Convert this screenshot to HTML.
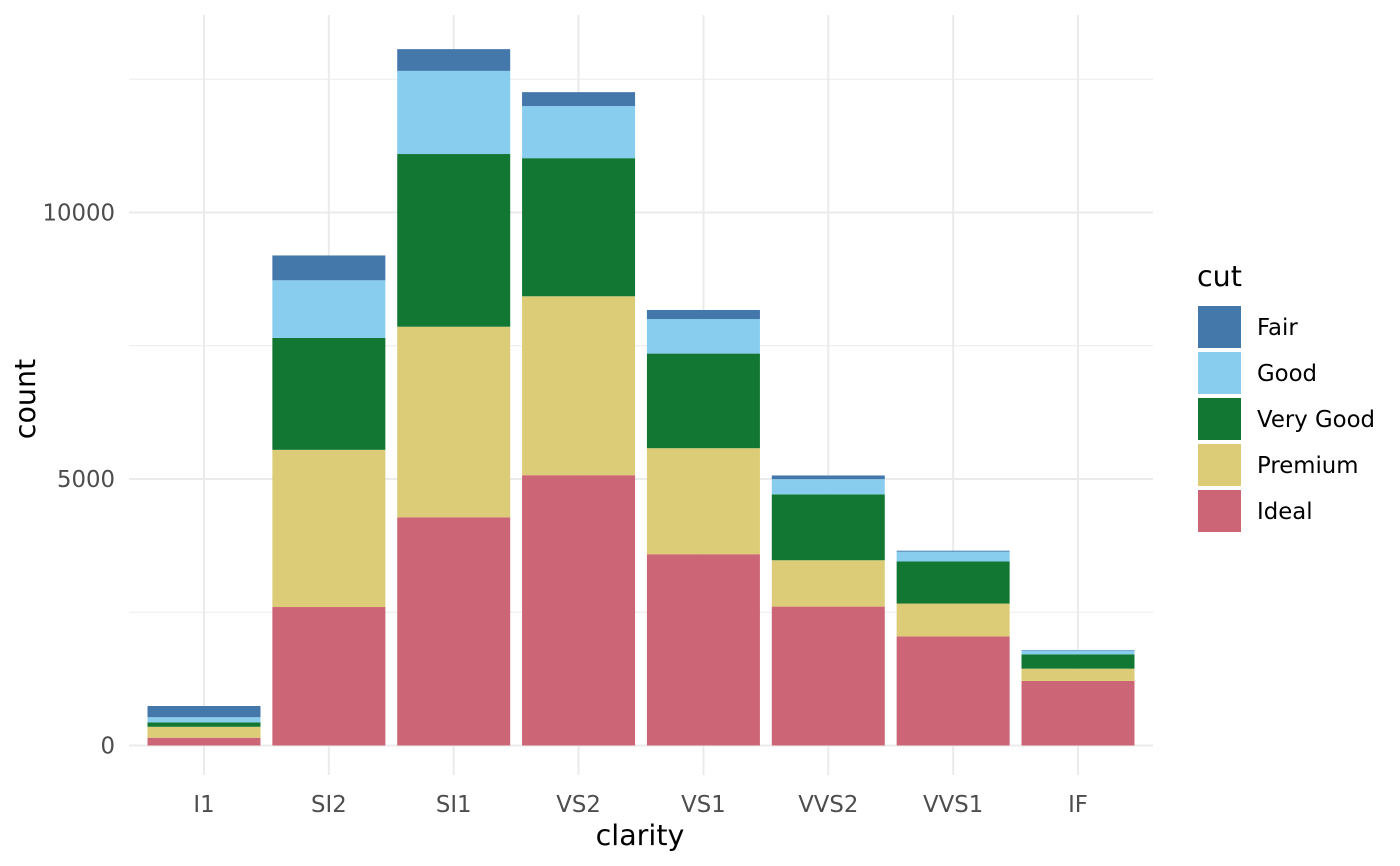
<!DOCTYPE html>
<html><head><meta charset="utf-8">
<style>
body{margin:0;background:#fff;}
svg{display:block;font-family:"DejaVu Sans","Liberation Sans",sans-serif;}
</style></head>
<body>
<svg id="chart" width="1400" height="866">
<g id="gGrid"></g>
<g id="gBars"></g>
<g id="gAxes"></g>
<g id="gLegend"></g>
</svg>
<script>
const categories = ["I1","SI2","SI1","VS2","VS1","VVS2","VVS1","IF"];
const cuts = ["Fair","Good","Very Good","Premium","Ideal"];
const fair     = [210,466,408,261,170,69,17,9];
const good     = [96,1081,1560,978,648,286,186,71];
const veryGood = [84,2100,3240,2591,1775,1235,789,268];
const premium  = [205,2949,3575,3357,1989,870,616,230];
const ideal    = [146,2598,4282,5071,3589,2606,2047,1212];
const yTicks = [0,5000,10000];
const yMinor = [2500,7500,12500];

const colors = {"Fair":"#4477AA","Good":"#88CCEE","Very Good":"#117733","Premium":"#DDCC77","Ideal":"#CC6677"};
const seriesByCut = {"Fair":fair,"Good":good,"Very Good":veryGood,"Premium":premium,"Ideal":ideal};
const NS="http://www.w3.org/2000/svg";
const plotL=129,plotR=1153,plotT=15,plotB=775;
const y0=745.5, pxPerUnit=(745.5-212.5)/10000;
function yScale(v){return y0 - v*pxPerUnit;}
const firstCenter=204, step=(1078-204)/7;
function xScale(i){return firstCenter + step*i;}
const bw = 113;
const tickFS=22.8, titleFS=28.5;
function mk(tag, attrs, parent){const e=document.createElementNS(NS,tag);for(const k in attrs)e.setAttribute(k,attrs[k]);parent.appendChild(e);return e;}
const gGrid=document.getElementById('gGrid'), gBars=document.getElementById('gBars'), gAxes=document.getElementById('gAxes'), gLegend=document.getElementById('gLegend');

yMinor.forEach(v=>{const l=mk('line',{x1:plotL,x2:plotR,y1:yScale(v),y2:yScale(v),stroke:'#ebebeb','stroke-width':1},gGrid);

});
yTicks.forEach(v=>{const l=mk('line',{x1:plotL,x2:plotR,y1:yScale(v),y2:yScale(v),stroke:'#ebebeb','stroke-width':2},gGrid);


const t=mk('text',{x:115,y:yScale(v)+8,'text-anchor':'end','font-size':tickFS,fill:'#4d4d4d'},gAxes);t.textContent=v;

});
categories.forEach((c,i)=>{const l=mk('line',{x1:xScale(i),x2:xScale(i),y1:plotT,y2:plotB,stroke:'#ebebeb','stroke-width':2},gGrid);


const t=mk('text',{x:xScale(i),y:812,'text-anchor':'middle','font-size':tickFS,fill:'#4d4d4d'},gAxes);t.textContent=c;

});

const stackOrder=["Ideal","Premium","Very Good","Good","Fair"];
categories.forEach((c,i)=>{let cum=0;stackOrder.forEach(cut=>{const v=seriesByCut[cut][i];
const r=mk('rect',{x:xScale(i)-bw/2,y:yScale(cum+v),width:bw,height:yScale(cum)-yScale(cum+v),fill:colors[cut]},gBars);

cum+=v;});});

const xt=mk('text',{x:640,y:845,'text-anchor':'middle','font-size':titleFS,fill:'#000'},gAxes);xt.textContent='clarity';


const yt=mk('text',{x:35,y:399,'text-anchor':'middle','font-size':titleFS,fill:'#000',transform:'rotate(-90 35 399)'},gAxes);yt.textContent='count';



const lt=mk('text',{x:1197,y:286,'font-size':titleFS,fill:'#000'},gLegend);lt.textContent='cut';


cuts.forEach((cut,k)=>{const yy=306+k*46;
const r=mk('rect',{x:1198,y:yy,width:43,height:42,fill:colors[cut]},gLegend);


const t=mk('text',{x:1257,y:yy+29,'font-size':tickFS,fill:'#000'},gLegend);t.textContent=cut;

});
</script>
</body></html>
